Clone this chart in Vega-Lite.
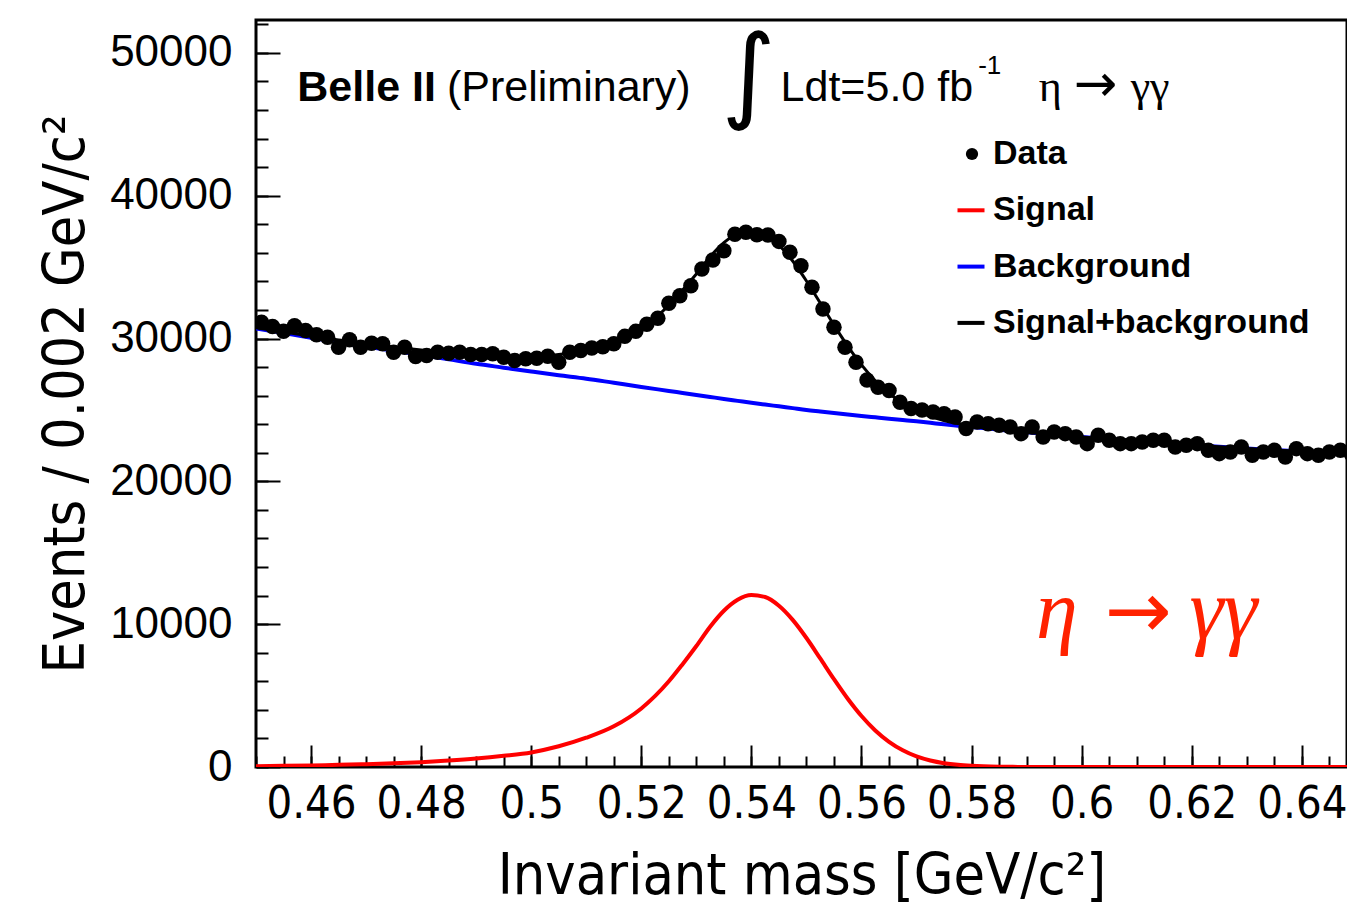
{
  "$schema": "https://vega.github.io/schema/vega-lite/v6.json",
  "width": 1091,
  "height": 747,
  "autosize": "none",
  "padding": {"left": 256, "top": 20, "right": 0, "bottom": 139},
  "background": "white",
  "config": {
    "view": {"stroke": "black", "strokeWidth": 3},
    "axis": {"labelColor": "black", "titleColor": "black", "tickColor": "black", "grid": false, "domain": false}
  },
  "datasets": {
    "data": [
      {"m": 0.451, "n": 31140}, {"m": 0.453, "n": 30840}, {"m": 0.455, "n": 30500}, {"m": 0.457, "n": 30900},
      {"m": 0.459, "n": 30560}, {"m": 0.461, "n": 30260}, {"m": 0.463, "n": 30090}, {"m": 0.465, "n": 29390},
      {"m": 0.467, "n": 29910}, {"m": 0.469, "n": 29390}, {"m": 0.471, "n": 29670}, {"m": 0.473, "n": 29630},
      {"m": 0.475, "n": 29040}, {"m": 0.477, "n": 29390}, {"m": 0.479, "n": 28740}, {"m": 0.481, "n": 28810},
      {"m": 0.483, "n": 29040}, {"m": 0.485, "n": 28970}, {"m": 0.487, "n": 29040}, {"m": 0.489, "n": 28880},
      {"m": 0.491, "n": 28880}, {"m": 0.493, "n": 28930}, {"m": 0.495, "n": 28690}, {"m": 0.497, "n": 28460},
      {"m": 0.499, "n": 28580}, {"m": 0.501, "n": 28620}, {"m": 0.503, "n": 28760}, {"m": 0.505, "n": 28340},
      {"m": 0.507, "n": 29040}, {"m": 0.509, "n": 29160}, {"m": 0.511, "n": 29330}, {"m": 0.513, "n": 29420},
      {"m": 0.515, "n": 29640}, {"m": 0.517, "n": 30150}, {"m": 0.519, "n": 30500}, {"m": 0.521, "n": 31000},
      {"m": 0.523, "n": 31420}, {"m": 0.525, "n": 32470}, {"m": 0.527, "n": 33000}, {"m": 0.529, "n": 33700},
      {"m": 0.531, "n": 34870}, {"m": 0.533, "n": 35500}, {"m": 0.535, "n": 36150}, {"m": 0.537, "n": 37300},
      {"m": 0.539, "n": 37440}, {"m": 0.541, "n": 37270}, {"m": 0.543, "n": 37250}, {"m": 0.545, "n": 36800},
      {"m": 0.547, "n": 36040}, {"m": 0.549, "n": 35100}, {"m": 0.551, "n": 33590}, {"m": 0.553, "n": 32070},
      {"m": 0.555, "n": 30790}, {"m": 0.557, "n": 29390}, {"m": 0.559, "n": 28340}, {"m": 0.561, "n": 27100},
      {"m": 0.563, "n": 26590}, {"m": 0.565, "n": 26360}, {"m": 0.567, "n": 25540}, {"m": 0.569, "n": 25100},
      {"m": 0.571, "n": 25000}, {"m": 0.573, "n": 24850}, {"m": 0.575, "n": 24730}, {"m": 0.577, "n": 24500},
      {"m": 0.579, "n": 23700}, {"m": 0.581, "n": 24150}, {"m": 0.583, "n": 24030}, {"m": 0.585, "n": 23920},
      {"m": 0.587, "n": 23800}, {"m": 0.589, "n": 23340}, {"m": 0.591, "n": 23800}, {"m": 0.593, "n": 23100},
      {"m": 0.595, "n": 23450}, {"m": 0.597, "n": 23340}, {"m": 0.599, "n": 23100}, {"m": 0.601, "n": 22640},
      {"m": 0.603, "n": 23220}, {"m": 0.605, "n": 22870}, {"m": 0.607, "n": 22640}, {"m": 0.609, "n": 22640},
      {"m": 0.611, "n": 22750}, {"m": 0.613, "n": 22870}, {"m": 0.615, "n": 22870}, {"m": 0.617, "n": 22400},
      {"m": 0.619, "n": 22520}, {"m": 0.621, "n": 22640}, {"m": 0.623, "n": 22170}, {"m": 0.625, "n": 21940},
      {"m": 0.627, "n": 22050}, {"m": 0.629, "n": 22400}, {"m": 0.631, "n": 21820}, {"m": 0.633, "n": 22050},
      {"m": 0.635, "n": 22170}, {"m": 0.637, "n": 21700}, {"m": 0.639, "n": 22290}, {"m": 0.641, "n": 21940},
      {"m": 0.643, "n": 21820}, {"m": 0.645, "n": 22050}, {"m": 0.647, "n": 22170}, {"m": 0.649, "n": 21900}
    ],
    "fit": [
      {"m": 0.450, "sig": 60, "bkg": 30700, "tot": 30760},
      {"m": 0.455, "sig": 80, "bkg": 30380, "tot": 30460},
      {"m": 0.460, "sig": 110, "bkg": 30060, "tot": 30170},
      {"m": 0.465, "sig": 150, "bkg": 29750, "tot": 29900},
      {"m": 0.470, "sig": 200, "bkg": 29440, "tot": 29640},
      {"m": 0.475, "sig": 260, "bkg": 29140, "tot": 29400},
      {"m": 0.480, "sig": 340, "bkg": 28850, "tot": 29190},
      {"m": 0.485, "sig": 450, "bkg": 28540, "tot": 28990},
      {"m": 0.490, "sig": 590, "bkg": 28230, "tot": 28820},
      {"m": 0.495, "sig": 780, "bkg": 27960, "tot": 28740},
      {"m": 0.500, "sig": 1020, "bkg": 27690, "tot": 28710},
      {"m": 0.505, "sig": 1450, "bkg": 27430, "tot": 28880},
      {"m": 0.510, "sig": 2050, "bkg": 27190, "tot": 29240},
      {"m": 0.515, "sig": 2850, "bkg": 26900, "tot": 29750},
      {"m": 0.520, "sig": 4100, "bkg": 26610, "tot": 30710},
      {"m": 0.525, "sig": 6000, "bkg": 26330, "tot": 32330},
      {"m": 0.5275, "sig": 7200, "bkg": 26190, "tot": 33390},
      {"m": 0.530, "sig": 8470, "bkg": 26050, "tot": 34520},
      {"m": 0.5325, "sig": 9820, "bkg": 25910, "tot": 35730},
      {"m": 0.535, "sig": 10940, "bkg": 25770, "tot": 36710},
      {"m": 0.5375, "sig": 11710, "bkg": 25635, "tot": 37345},
      {"m": 0.540, "sig": 12040, "bkg": 25500, "tot": 37540},
      {"m": 0.5425, "sig": 11900, "bkg": 25375, "tot": 37275},
      {"m": 0.545, "sig": 11290, "bkg": 25250, "tot": 36540},
      {"m": 0.5475, "sig": 10300, "bkg": 25125, "tot": 35425},
      {"m": 0.550, "sig": 9030, "bkg": 25000, "tot": 34030},
      {"m": 0.5525, "sig": 7600, "bkg": 24895, "tot": 32495},
      {"m": 0.555, "sig": 6150, "bkg": 24790, "tot": 30940},
      {"m": 0.5575, "sig": 4780, "bkg": 24685, "tot": 29465},
      {"m": 0.560, "sig": 3570, "bkg": 24580, "tot": 28150},
      {"m": 0.5625, "sig": 2560, "bkg": 24485, "tot": 27045},
      {"m": 0.565, "sig": 1765, "bkg": 24390, "tot": 26155},
      {"m": 0.5675, "sig": 1170, "bkg": 24295, "tot": 25465},
      {"m": 0.570, "sig": 740, "bkg": 24200, "tot": 24940},
      {"m": 0.5725, "sig": 455, "bkg": 24095, "tot": 24550},
      {"m": 0.575, "sig": 267, "bkg": 23990, "tot": 24257},
      {"m": 0.5775, "sig": 151, "bkg": 23895, "tot": 24046},
      {"m": 0.580, "sig": 82, "bkg": 23800, "tot": 23882},
      {"m": 0.585, "sig": 21, "bkg": 23620, "tot": 23641},
      {"m": 0.590, "sig": 4, "bkg": 23440, "tot": 23444},
      {"m": 0.595, "sig": 0, "bkg": 23270, "tot": 23270},
      {"m": 0.600, "sig": 0, "bkg": 23110, "tot": 23110},
      {"m": 0.605, "sig": 0, "bkg": 22960, "tot": 22960},
      {"m": 0.610, "sig": 0, "bkg": 22820, "tot": 22820},
      {"m": 0.615, "sig": 0, "bkg": 22680, "tot": 22680},
      {"m": 0.620, "sig": 0, "bkg": 22550, "tot": 22550},
      {"m": 0.625, "sig": 0, "bkg": 22420, "tot": 22420},
      {"m": 0.630, "sig": 0, "bkg": 22300, "tot": 22300},
      {"m": 0.635, "sig": 0, "bkg": 22190, "tot": 22190},
      {"m": 0.640, "sig": 0, "bkg": 22090, "tot": 22090},
      {"m": 0.645, "sig": 0, "bkg": 22000, "tot": 22000},
      {"m": 0.650, "sig": 0, "bkg": 21910, "tot": 21910}
    ]
  },
  "resolve": {"axis": {"x": "independent", "y": "independent"}},
  "layer": [
    {
      "data": {"name": "fit"},
      "mark": {"type": "line", "strokeWidth": 4, "clip": true, "interpolate": "monotone"},
      "encoding": {
        "x": {"field": "m", "type": "quantitative", "scale": {"domain": [0.45, 0.6482], "nice": false, "zero": false},
          "axis": {"orient": "bottom", "values": [0.46, 0.48, 0.5, 0.52, 0.54, 0.56, 0.58, 0.6, 0.62, 0.64], "format": "~g",
            "tickSize": -22, "tickWidth": 2, "labelPadding": 36, "labelFont": "Liberation Sans Narrow, DejaVu Sans Condensed, Liberation Sans",
            "labelFontSize": 45, "title": "Invariant mass [GeV/c²]", "titleFont": "Liberation Sans Narrow, DejaVu Sans Condensed, Liberation Sans",
            "titleFontSize": 57, "titleFontWeight": "normal", "titlePadding": 22}},
        "y": {"field": "bkg", "type": "quantitative", "scale": {"domain": [0, 52300], "nice": false},
          "axis": {"orient": "left", "values": [0, 10000, 20000, 30000, 40000, 50000], "format": "d",
            "tickSize": -24, "tickWidth": 2, "labelPadding": 48, "labelFont": "Liberation Sans", "labelFontSize": 44,
            "title": "Events / 0.002 GeV/c²", "titleFont": "Liberation Sans Narrow, DejaVu Sans Condensed, Liberation Sans",
            "titleFontSize": 57, "titleFontWeight": "normal", "titlePadding": 14}},
        "color": {"datum": "Background", "type": "nominal",
          "scale": {"domain": ["Signal", "Background", "Signal+background"], "range": ["#ff0000", "#0000ff", "black"]},
          "legend": {"orient": "none", "legendX": 698, "legendY": 173.3, "title": null,
            "labelFont": "Liberation Sans", "labelFontSize": 34, "labelFontWeight": "bold", "labelColor": "black", "labelLimit": 500,
            "labelOffset": 5, "rowPadding": 22.3, "symbolSize": 729, "symbolStrokeWidth": 4, "symbolType": "stroke"}}
      }
    },
    {
      "data": {"name": "fit"},
      "mark": {"type": "line", "strokeWidth": 4, "clip": true, "interpolate": "monotone"},
      "encoding": {
        "x": {"field": "m", "type": "quantitative",
          "axis": {"orient": "bottom", "values": [0.45, 0.455, 0.46, 0.465, 0.47, 0.475, 0.48, 0.485, 0.49, 0.495, 0.5, 0.505, 0.51, 0.515, 0.52, 0.525, 0.53, 0.535, 0.54, 0.545, 0.55, 0.555, 0.56, 0.565, 0.57, 0.575, 0.58, 0.585, 0.59, 0.595, 0.6, 0.605, 0.61, 0.615, 0.62, 0.625, 0.63, 0.635, 0.64, 0.645],
            "tickSize": -11, "tickWidth": 2, "labels": false, "title": null}},
        "y": {"field": "sig", "type": "quantitative",
          "axis": {"orient": "left", "values": [0, 2000, 4000, 6000, 8000, 10000, 12000, 14000, 16000, 18000, 20000, 22000, 24000, 26000, 28000, 30000, 32000, 34000, 36000, 38000, 40000, 42000, 44000, 46000, 48000, 50000, 52000],
            "tickSize": -12, "tickWidth": 2, "labels": false, "title": null}},
        "color": {"datum": "Signal", "type": "nominal"}
      }
    },
    {
      "data": {"name": "fit"},
      "mark": {"type": "line", "strokeWidth": 3, "clip": true, "interpolate": "monotone"},
      "encoding": {
        "x": {"field": "m", "type": "quantitative", "axis": null},
        "y": {"field": "tot", "type": "quantitative", "axis": null},
        "color": {"datum": "Signal+background", "type": "nominal"}
      }
    },
    {
      "data": {"name": "data"},
      "mark": {"type": "point", "filled": true, "color": "black", "opacity": 1, "size": 240, "clip": true},
      "encoding": {
        "x": {"field": "m", "type": "quantitative", "axis": null},
        "y": {"field": "n", "type": "quantitative", "axis": null},
        "shape": {"datum": "Data", "type": "nominal",
          "scale": {"domain": ["Data"], "range": ["circle"]},
          "legend": {"orient": "none", "legendX": 699, "legendY": 117, "title": null,
            "labelFont": "Liberation Sans", "labelFontSize": 34, "labelFontWeight": "bold", "labelColor": "black", "labelLimit": 500,
            "labelOffset": 4, "symbolSize": 150, "symbolFillColor": "black", "symbolStrokeWidth": 0, "symbolOpacity": 1}}
      }
    },
    {
      "data": {"values": [{}]},
      "mark": {"type": "text", "text": "Belle II", "font": "Liberation Sans", "fontWeight": "bold", "fontSize": 43, "align": "left", "baseline": "alphabetic", "fill": "black"},
      "encoding": {"x": {"datum": 0.4575, "type": "quantitative", "axis": null}, "y": {"datum": 46640, "type": "quantitative", "axis": null}}
    },
    {
      "data": {"values": [{}]},
      "mark": {"type": "text", "text": "(Preliminary)", "font": "Liberation Sans", "fontSize": 43, "align": "left", "baseline": "alphabetic", "fill": "black"},
      "encoding": {"x": {"datum": 0.4847, "type": "quantitative", "axis": null}, "y": {"datum": 46640, "type": "quantitative", "axis": null}}
    },
    {
      "data": {"values": [{}]},
      "mark": {"type": "text", "text": "∫", "font": "DejaVu Sans", "fontSize": 104, "align": "center", "baseline": "middle", "fill": "black"},
      "encoding": {"x": {"datum": 0.5395, "type": "quantitative", "axis": null}, "y": {"datum": 48250, "type": "quantitative", "axis": null}}
    },
    {
      "data": {"values": [{}]},
      "mark": {"type": "text", "text": "Ldt=5.0 fb", "font": "Liberation Sans", "fontSize": 43, "align": "left", "baseline": "alphabetic", "fill": "black"},
      "encoding": {"x": {"datum": 0.5453, "type": "quantitative", "axis": null}, "y": {"datum": 46640, "type": "quantitative", "axis": null}}
    },
    {
      "data": {"values": [{}]},
      "mark": {"type": "text", "text": "-1", "font": "Liberation Sans", "fontSize": 26, "align": "left", "baseline": "alphabetic", "fill": "black"},
      "encoding": {"x": {"datum": 0.5812, "type": "quantitative", "axis": null}, "y": {"datum": 48530, "type": "quantitative", "axis": null}}
    },
    {
      "data": {"values": [{}]},
      "mark": {"type": "text", "text": "η", "font": "Liberation Serif", "fontSize": 44, "align": "left", "baseline": "alphabetic", "fill": "black"},
      "encoding": {"x": {"datum": 0.5922, "type": "quantitative", "axis": null}, "y": {"datum": 46640, "type": "quantitative", "axis": null}}
    },
    {
      "data": {"values": [{}]},
      "mark": {"type": "text", "text": "→", "font": "DejaVu Sans", "fontSize": 52, "align": "center", "baseline": "alphabetic", "fill": "black"},
      "encoding": {"x": {"datum": 0.6025, "type": "quantitative", "axis": null}, "y": {"datum": 46640, "type": "quantitative", "axis": null}}
    },
    {
      "data": {"values": [{}]},
      "mark": {"type": "text", "text": "γγ", "font": "Liberation Serif", "fontSize": 44, "align": "left", "baseline": "alphabetic", "fill": "black"},
      "encoding": {"x": {"datum": 0.6089, "type": "quantitative", "axis": null}, "y": {"datum": 46640, "type": "quantitative", "axis": null}}
    },
    {
      "data": {"values": [{}]},
      "mark": {"type": "text", "text": "η", "font": "Liberation Serif", "fontStyle": "italic", "fontSize": 84, "align": "left", "baseline": "alphabetic", "fill": "#ff2200"},
      "encoding": {"x": {"datum": 0.5917, "type": "quantitative", "axis": null}, "y": {"datum": 9020, "type": "quantitative", "axis": null}}
    },
    {
      "data": {"values": [{}]},
      "mark": {"type": "text", "text": "→", "font": "DejaVu Sans", "fontSize": 80, "align": "center", "baseline": "alphabetic", "fill": "#ff2200"},
      "encoding": {"x": {"datum": 0.6103, "type": "quantitative", "axis": null}, "y": {"datum": 9020, "type": "quantitative", "axis": null}}
    },
    {
      "data": {"values": [{}]},
      "mark": {"type": "text", "text": "γγ", "font": "Liberation Serif", "fontStyle": "italic", "fontSize": 86, "align": "left", "baseline": "alphabetic", "fill": "#ff2200"},
      "encoding": {"x": {"datum": 0.6196, "type": "quantitative", "axis": null}, "y": {"datum": 9020, "type": "quantitative", "axis": null}}
    }
  ]
}
